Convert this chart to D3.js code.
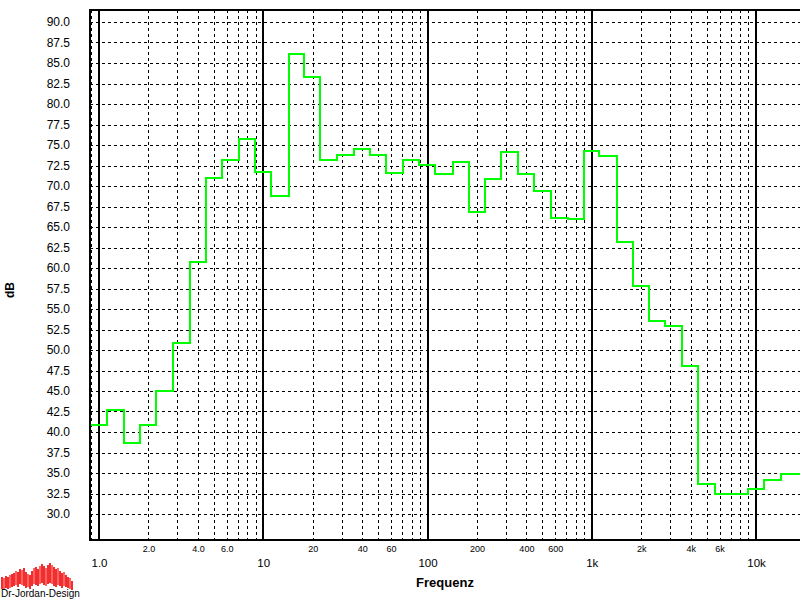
<!DOCTYPE html>
<html>
<head>
<meta charset="utf-8">
<script src="https://cdn.jsdelivr.net/npm/d3@7"></script>
<style>
  body { margin: 0; background: #fff; }
  text { font-family: "Liberation Sans", Arial, sans-serif; }
</style>
</head>
<body>
<script>
var width = 800, height = 600;
var plotL = 90, plotR = 800, plotT = 10, plotB = 540;

// 1/3-octave band centres (Hz) and measured level (dB)
var bandCenters = [1, 1.25, 1.6, 2, 2.5, 3.15, 4, 5, 6.3, 8,
  10, 12.5, 16, 20, 25, 31.5, 40, 50, 63, 80,
  100, 125, 160, 200, 250, 315, 400, 500, 630, 800,
  1000, 1250, 1600, 2000, 2500, 3150, 4000, 5000, 6300, 8000,
  10000, 12500, 16000];
var levels = [40.9, 42.7, 38.7, 40.8, 45.0, 50.9, 60.7, 71.0, 73.2, 75.7,
  71.7, 68.8, 86.1, 83.3, 73.2, 73.8, 74.5, 73.8, 71.6, 73.2,
  72.6, 71.5, 72.9, 66.8, 70.9, 74.1, 71.5, 69.4, 66.1, 66.0,
  74.3, 73.7, 63.2, 57.8, 53.5, 52.9, 48.0, 33.7, 32.4, 32.4,
  33.1, 34.1, 34.9];

var yTicks = [30, 32.5, 35, 37.5, 40, 42.5, 45, 47.5, 50, 52.5, 55, 57.5, 60,
  62.5, 65, 67.5, 70, 72.5, 75, 77.5, 80, 82.5, 85, 87.5, 90];
var majorTicks = [1, 10, 100, 1000, 10000];
var majorLabels = ["1.0", "10", "100", "1k", "10k"];
var minorTicks = [2, 4, 6, 20, 40, 60, 200, 400, 600, 2000, 4000, 6000];
var minorLabels = ["2.0", "4.0", "6.0", "20", "40", "60", "200", "400", "600", "2k", "4k", "6k"];

// logo bars (top, bottom)
var logoTop = [22, 23, 21, 22, 20, 19, 18, 16, 17, 14, 15, 13, 17, 19, 20, 16, 13, 12, 14, 11,
  9, 11, 13, 10, 8, 10, 12, 14, 13, 16, 18, 17, 20, 22, 23, 26];
var logoBot = [34, 35, 33, 34, 33, 32, 31, 30, 32, 29, 30, 31, 33, 32, 34, 31, 29, 30, 31, 29,
  28, 30, 31, 29, 28, 29, 31, 32, 30, 31, 33, 31, 32, 33, 34, 35];

var svg = d3.select("body")
    .append("svg")
    .attr("width", width)
    .attr("height", height);

var x = d3.scaleLog().domain([1, 10000]).range([99, 756]);
var y = d3.scaleLinear().domain([30, 90]).range([514, 22]);

svg.append("clipPath").attr("id", "plot")
  .append("rect")
    .attr("x", plotL).attr("y", plotT)
    .attr("width", plotR - plotL).attr("height", plotB - plotT);

// dashed grid
var gridX = [0.9];
[1, 10, 100, 1000].forEach(function(dec) {
  for (var m = 2; m <= 9; m++) gridX.push(dec * m);
});

var grid = svg.append("g").attr("clip-path", "url(#plot)")
    .attr("stroke", "#000").attr("stroke-width", 1).attr("stroke-dasharray", "3,3")
    .attr("shape-rendering", "crispEdges");

grid.selectAll(".gy")
    .data(yTicks)
  .enter().append("line")
    .attr("x1", plotL).attr("x2", plotR)
    .attr("y1", function(d) { return Math.round(y(d)) + 0.5; })
    .attr("y2", function(d) { return Math.round(y(d)) + 0.5; });

grid.selectAll(".gx")
    .data(gridX)
  .enter().append("line")
    .attr("y1", plotT).attr("y2", plotB)
    .attr("x1", function(d) { return Math.round(x(d)) + 0.5; })
    .attr("x2", function(d) { return Math.round(x(d)) + 0.5; });

svg.append("g")
    .attr("stroke", "#000").attr("stroke-width", 2)
    .attr("shape-rendering", "crispEdges")
  .selectAll("line")
    .data(majorTicks)
  .enter().append("line")
    .attr("y1", plotT).attr("y2", plotB)
    .attr("x1", function(d) { return Math.round(x(d)); })
    .attr("x2", function(d) { return Math.round(x(d)); });

// step curve: each band spans centre * 10^(+-0.05)
var pts = bandCenters.map(function(f, i) { return [f * Math.pow(10, -0.05), levels[i]]; });
pts.push([x.invert(plotR + 5), levels[levels.length - 1]]);

var line = d3.line()
    .x(function(d) { return Math.round(x(d[0])); })
    .y(function(d) { return Math.round(y(d[1])); })
    .curve(d3.curveStepAfter);

svg.append("path")
    .datum(pts)
    .attr("clip-path", "url(#plot)")
    .attr("fill", "none")
    .attr("stroke", "#00ff00")
    .attr("stroke-width", 2)
    .attr("shape-rendering", "crispEdges")
    .attr("d", line);

// frame
svg.append("path")
    .attr("d", "M" + plotR + "," + plotT + "H" + plotL + "V" + plotB + "H" + plotR)
    .attr("fill", "none")
    .attr("stroke", "#000")
    .attr("stroke-width", 2)
    .attr("shape-rendering", "crispEdges");

// y axis labels
var yAxis = svg.append("g")
    .attr("transform", "translate(" + plotL + ",0)")
    .call(d3.axisLeft(y).tickValues(yTicks).tickSize(0).tickPadding(20)
      .tickFormat(function(d) { return d.toFixed(1); }));
yAxis.select(".domain").remove();
yAxis.selectAll("text").attr("font-size", "12px").attr("fill", "#000")
    .style("font-family", "'Liberation Sans', Arial, sans-serif");

// x axis labels
var xMajor = svg.append("g")
    .call(d3.axisBottom(x).tickValues(majorTicks).tickSize(0)
      .tickFormat(function(d, i) { return majorLabels[i]; }));
xMajor.select(".domain").remove();
xMajor.selectAll("text").attr("y", 567).attr("dy", null)
    .attr("font-size", "11.5px").attr("fill", "#000")
    .style("font-family", "'Liberation Sans', Arial, sans-serif");

var xMinor = svg.append("g")
    .call(d3.axisBottom(x).tickValues(minorTicks).tickSize(0)
      .tickFormat(function(d, i) { return minorLabels[i]; }));
xMinor.select(".domain").remove();
xMinor.selectAll("text").attr("y", 552).attr("dy", null)
    .attr("font-size", "9px").attr("fill", "#000")
    .style("font-family", "'Liberation Sans', Arial, sans-serif");

svg.append("text")
    .attr("x", 445).attr("y", 587)
    .attr("text-anchor", "middle")
    .attr("font-size", "13px").attr("font-weight", "bold")
    .text("Frequenz");

svg.append("text")
    .attr("transform", "translate(14,290) rotate(-90)")
    .attr("text-anchor", "middle")
    .attr("font-size", "12px").attr("font-weight", "bold")
    .text("dB");

// logo
var logo = svg.append("g").attr("transform", "translate(1,555)");
logo.selectAll("rect")
    .data(logoTop)
  .enter().append("rect")
    .attr("x", function(d, i) { return i * 2; })
    .attr("y", function(d) { return d; })
    .attr("width", 2)
    .attr("height", function(d, i) { return logoBot[i] - d; })
    .attr("fill", function(d, i) { return i % 3 == 1 ? "#ff6060" : "#f03030"; });
svg.append("text")
    .attr("x", 1).attr("y", 597)
    .attr("font-size", "10px")
    .text("Dr-Jordan-Design");
</script>
</body>
</html>
